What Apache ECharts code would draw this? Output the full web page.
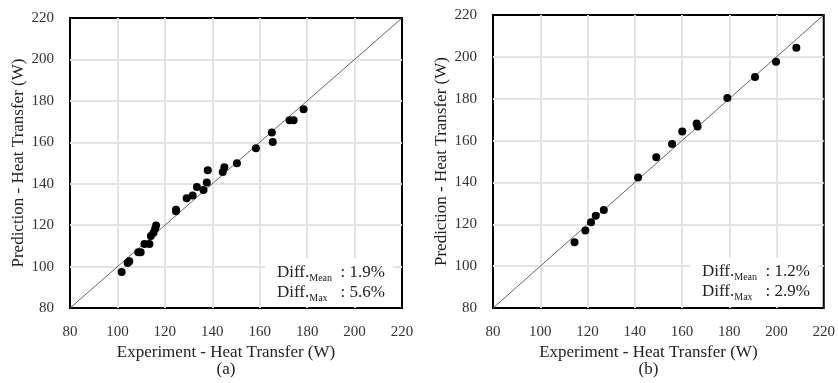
<!DOCTYPE html>
<html>
<head>
<meta charset="utf-8">
<script src="https://cdn.jsdelivr.net/npm/echarts@6/dist/echarts.min.js"></script>
<style>html,body{margin:0;padding:0;background:#fff}#c{width:838px;height:383px}</style>
</head>
<body>
<div id="c"></div>
<script>
// Panel (a) data
const expA = [101.8,104.3,105.0,108.8,109.8,111.4,113.5,114.1,115.2,115.9,116.3,124.7,124.7,129.2,131.7,133.5,136.3,137.7,138.1,144.4,145.1,150.4,158.4,165.1,165.5,172.6,174.3,178.5];
const predA = [97.4,101.8,102.6,106.9,106.9,110.9,110.9,114.8,116.4,118.3,119.9,127.5,126.7,133.0,134.3,138.5,137.0,140.6,146.5,145.7,148.0,149.9,157.1,164.7,160.1,170.7,170.7,176.0];
// Panel (b) data
const expB = [114.5,119.1,121.5,123.5,126.9,141.4,149.1,155.8,160.1,166.2,166.6,179.2,190.9,199.8,208.4];
const predB = [111.5,117.1,121.0,124.1,126.8,142.4,152.0,158.4,164.3,168.2,166.8,180.4,190.4,197.7,204.3];
// Parity line and axis range
const parity = [80, 220];
const axisMin = 80, axisMax = 220, axisStep = 20;
const diffA = {mean: '1.9%', max: '5.6%'};
const diffB = {mean: '1.2%', max: '2.9%'};
const xTitle = 'Experiment - Heat Transfer (W)';
const yTitle = 'Prediction - Heat Transfer (W)';
const panelLabels = ['(a)', '(b)'];

const FONT = 'Liberation Serif';
const chart = echarts.init(document.getElementById('c'));

function xAxis(i, label) {
  return {
    type: 'value', gridIndex: i, min: axisMin, max: axisMax, interval: axisStep,
    name: xTitle + '\n' + label, nameLocation: 'middle', nameGap: 21,
    nameTextStyle: {fontFamily: FONT, fontSize: 17, color: '#222', lineHeight: 17, verticalAlign: 'top', padding: [0, 20, 0, 0]},
    axisLine: {show: false}, axisTick: {show: false},
    axisLabel: {fontFamily: FONT, fontSize: 15, color: '#333', margin: 16},
    splitLine: {show: true, showMinLine: false, showMaxLine: false, lineStyle: {color: '#e3e3e3', width: 2}}
  };
}
function yAxis(i) {
  return {
    type: 'value', gridIndex: i, min: axisMin, max: axisMax, interval: axisStep,
    name: yTitle, nameLocation: 'middle', nameGap: 43, nameRotate: 90,
    nameTextStyle: {fontFamily: FONT, fontSize: 17, color: '#222'},
    axisLine: {show: false}, axisTick: {show: false},
    axisLabel: {fontFamily: FONT, fontSize: 15, color: '#333', margin: 16},
    splitLine: {show: true, showMinLine: false, showMaxLine: false, lineStyle: {color: '#e3e3e3', width: 2}}
  };
}
function diffTitle(d, left, top) {
  return {
    text: '{a|Diff.}{s|Mean}{a| : ' + d.mean + '}\n{a|Diff.}{s|Max}{a| : ' + d.max + '}',
    left: left, top: top, backgroundColor: '#fff', padding: [6, 8, 4, 12],
    textStyle: {
      fontWeight: 'normal',
      rich: {
        a: {fontFamily: FONT, fontSize: 17, fontWeight: 'normal', color: '#222', lineHeight: 20},
        s: {fontFamily: FONT, fontSize: 10, fontWeight: 'normal', color: '#222', width: 27, verticalAlign: 'bottom', lineHeight: 20, padding: [7, 0, 0, 0]}
      }
    }
  };
}

const option = {
  backgroundColor: '#fff',
  animation: false,
  title: [diffTitle(diffA, 265, 257), diffTitle(diffB, 690, 256)],
  grid: [
    {left: 70, top: 18, width: 332, height: 295, show: true, borderColor: '#000', borderWidth: 2, backgroundColor: 'transparent'},
    {left: 493, top: 15, width: 335, height: 299, show: true, borderColor: '#000', borderWidth: 2, backgroundColor: 'transparent'}
  ],
  xAxis: [xAxis(0, panelLabels[0]), xAxis(1, panelLabels[1])],
  yAxis: [yAxis(0), yAxis(1)],
  series: [
    {type: 'line', xAxisIndex: 0, yAxisIndex: 0, data: parity.map(v => [v, v]), symbol: 'none', silent: true, lineStyle: {color: '#666', width: 1}, z: 1},
    {type: 'line', xAxisIndex: 1, yAxisIndex: 1, data: parity.map(v => [v, v]), symbol: 'none', silent: true, lineStyle: {color: '#666', width: 1}, z: 1},
    {type: 'scatter', xAxisIndex: 0, yAxisIndex: 0, data: expA.map((x, i) => [x, predA[i]]), symbolSize: 8, itemStyle: {color: '#000', opacity: 1}, z: 3},
    {type: 'scatter', xAxisIndex: 1, yAxisIndex: 1, data: expB.map((x, i) => [x, predB[i]]), symbolSize: 8, itemStyle: {color: '#000', opacity: 1}, z: 3}
  ]
};
chart.setOption(option);
</script>
</body>
</html>
